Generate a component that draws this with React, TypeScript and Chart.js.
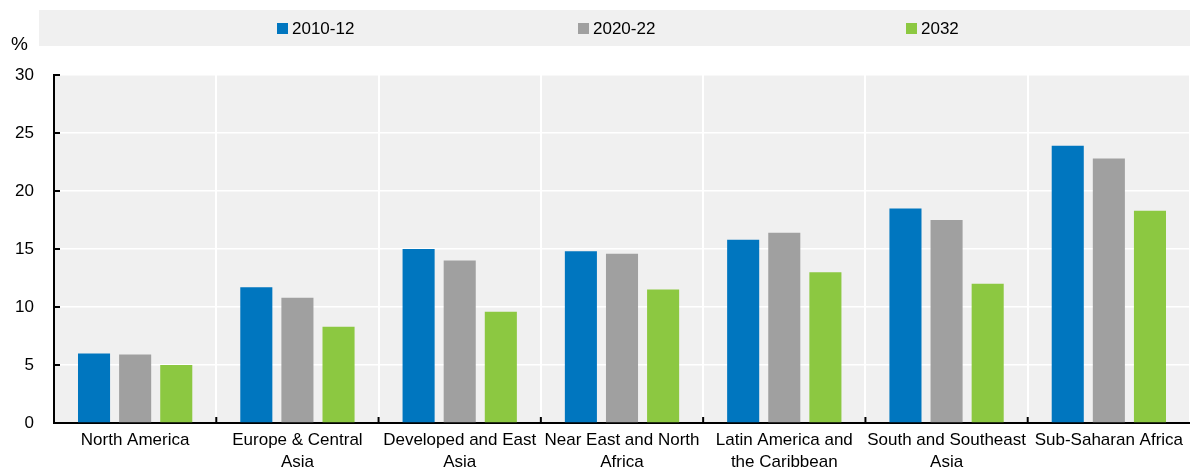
import React, { useEffect, useRef } from "react";
import { Chart, registerables } from "chart.js";

Chart.register(...registerables);

const categories: string[][] = [
  ["North America"],
  ["Europe & Central", "Asia"],
  ["Developed and East", "Asia"],
  ["Near East and North", "Africa"],
  ["Latin America and", "the Caribbean"],
  ["South and Southeast", "Asia"],
  ["Sub-Saharan Africa"],
];
const seriesNames = ["2010-12", "2020-22", "2032"];
const values2010 = [6.0, 11.7, 15.0, 14.8, 15.8, 18.5, 23.9];
const values2020 = [5.9, 10.8, 14.0, 14.6, 16.4, 17.5, 22.8];
const values2032 = [5.0, 8.3, 9.6, 11.5, 13.0, 12.0, 18.3];
const yTicks = [0, 5, 10, 15, 20, 25, 30];
const unitLabel = "%";

const colors = ["#0076BF", "#A0A0A0", "#8CC841"];
const FONT = "'Liberation Sans', Arial, sans-serif";

const decorPlugin = {
  id: "decor",
  beforeDraw(chart: any) {
    const { ctx, chartArea } = chart;
    ctx.save();
    ctx.fillStyle = "#F0F0F0";
    ctx.fillRect(chartArea.left, chartArea.top, chartArea.right - chartArea.left, chartArea.bottom - chartArea.top);
    // legend band
    ctx.fillRect(39, 10, chart.width - 39, 36);
    const xs = [277, 578, 906];
    ctx.font = `17px ${FONT}`;
    ctx.textBaseline = "middle";
    chart.data.datasets.forEach((ds: any, i: number) => {
      ctx.fillStyle = ds.backgroundColor;
      ctx.fillRect(xs[i], 23, 11, 11);
      ctx.fillStyle = "#000";
      ctx.fillText(ds.label, xs[i] + 15, 29);
    });
    ctx.font = `19px ${FONT}`;
    ctx.fillText(unitLabel, 11, 45);
    ctx.restore();
  },
  afterDraw(chart: any) {
    const { ctx, chartArea, scales } = chart;
    ctx.save();
    ctx.strokeStyle = "#000";
    ctx.lineWidth = 2;
    const y = scales.y;
    y.ticks.forEach((t: any) => {
      const py = y.getPixelForValue(t.value);
      ctx.beginPath();
      ctx.moveTo(chartArea.left, py);
      ctx.lineTo(chartArea.left + 6, py);
      ctx.stroke();
    });
    const x = scales.x;
    const n = chart.data.labels.length;
    for (let i = 1; i < n; i++) {
      const px = (x.getPixelForValue(i - 1) + x.getPixelForValue(i)) / 2;
      ctx.beginPath();
      ctx.moveTo(px, chartArea.bottom);
      ctx.lineTo(px, chartArea.bottom - 6);
      ctx.stroke();
    }
    ctx.restore();
  },
};

export default function App() {
  const ref = useRef<HTMLCanvasElement>(null);
  useEffect(() => {
    document.body.style.margin = "0";
    const seriesValues = [values2010, values2020, values2032];
    const chart = new Chart(ref.current!, {
      type: "bar",
      data: {
        labels: categories,
        datasets: seriesNames.map((name, i) => ({
          label: name,
          data: seriesValues[i],
          backgroundColor: colors[i],
          barPercentage: 0.78,
          categoryPercentage: 0.76,
        })),
      },
      options: {
        responsive: false,
        animation: false,
        layout: { padding: { top: 75, left: 0, right: 0, bottom: 0 } },
        plugins: { legend: { display: false }, tooltip: { enabled: false } },
        scales: {
          x: {
            offset: true,
            grid: { offset: true, color: "#FFFFFF", lineWidth: 2, drawTicks: false },
            border: { color: "#000", width: 2 },
            ticks: { color: "#000", font: { family: FONT, size: 17, lineHeight: 1.3 }, padding: 6, maxRotation: 0, autoSkip: false },
            afterFit: (s: any) => { s.height = 48; },
          },
          y: {
            min: 0,
            max: 30,
            afterBuildTicks: (s: any) => { s.ticks = yTicks.map((v) => ({ value: v })); },
            grid: { color: "#FFFFFF", lineWidth: 1.5, drawTicks: false },
            border: { color: "#000", width: 2 },
            ticks: { color: "#000", font: { family: FONT, size: 17 }, padding: 20 },
            afterFit: (s: any) => { s.width = 54; },
          },
        },
      },
      plugins: [decorPlugin],
    });
    return () => chart.destroy();
  }, []);
  return <canvas ref={ref} width={1190} height={471} style={{ display: "block" }} />;
}
